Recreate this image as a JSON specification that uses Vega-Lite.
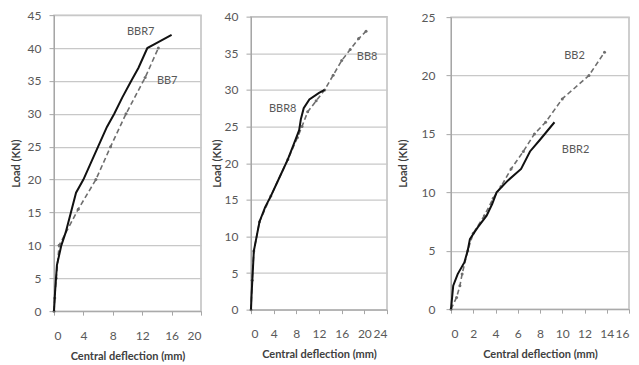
{
  "$schema": "https://vega.github.io/schema/vega-lite/v6.json",
  "padding": {"left": 9, "top": 8, "right": 5, "bottom": 2},
  "background": "white",
  "center": true,
  "spacing": 7,
  "datasets": {
    "curves": [
      {"panel": 1, "series": "BBR7", "style": "solid", "x": 0, "y": 0},
      {"panel": 1, "series": "BBR7", "style": "solid", "x": 0.15, "y": 3},
      {"panel": 1, "series": "BBR7", "style": "solid", "x": 0.4, "y": 7},
      {"panel": 1, "series": "BBR7", "style": "solid", "x": 1, "y": 10},
      {"panel": 1, "series": "BBR7", "style": "solid", "x": 1.6, "y": 12},
      {"panel": 1, "series": "BBR7", "style": "solid", "x": 2.3, "y": 15},
      {"panel": 1, "series": "BBR7", "style": "solid", "x": 3, "y": 18},
      {"panel": 1, "series": "BBR7", "style": "solid", "x": 4, "y": 20},
      {"panel": 1, "series": "BBR7", "style": "solid", "x": 5, "y": 22.5},
      {"panel": 1, "series": "BBR7", "style": "solid", "x": 6, "y": 25},
      {"panel": 1, "series": "BBR7", "style": "solid", "x": 7.2, "y": 28},
      {"panel": 1, "series": "BBR7", "style": "solid", "x": 8.2, "y": 30},
      {"panel": 1, "series": "BBR7", "style": "solid", "x": 9.3, "y": 32.5},
      {"panel": 1, "series": "BBR7", "style": "solid", "x": 10.5, "y": 35},
      {"panel": 1, "series": "BBR7", "style": "solid", "x": 11.5, "y": 37},
      {"panel": 1, "series": "BBR7", "style": "solid", "x": 12.7, "y": 40},
      {"panel": 1, "series": "BBR7", "style": "solid", "x": 14, "y": 40.8},
      {"panel": 1, "series": "BBR7", "style": "solid", "x": 16, "y": 42},
      {"panel": 1, "series": "BB7", "style": "dashed", "x": 0, "y": 0},
      {"panel": 1, "series": "BB7", "style": "dashed", "x": 0.1, "y": 2},
      {"panel": 1, "series": "BB7", "style": "dashed", "x": 0.3, "y": 5},
      {"panel": 1, "series": "BB7", "style": "dashed", "x": 0.7, "y": 10},
      {"panel": 1, "series": "BB7", "style": "dashed", "x": 3.3, "y": 15.5},
      {"panel": 1, "series": "BB7", "style": "dashed", "x": 5.7, "y": 20},
      {"panel": 1, "series": "BB7", "style": "dashed", "x": 7.7, "y": 25},
      {"panel": 1, "series": "BB7", "style": "dashed", "x": 9.8, "y": 30},
      {"panel": 1, "series": "BB7", "style": "dashed", "x": 12.4, "y": 35.5},
      {"panel": 1, "series": "BB7", "style": "dashed", "x": 14.2, "y": 40},
      {"panel": 2, "series": "BBR8", "style": "solid", "x": 0, "y": 0},
      {"panel": 2, "series": "BBR8", "style": "solid", "x": 0.1, "y": 2},
      {"panel": 2, "series": "BBR8", "style": "solid", "x": 0.3, "y": 5},
      {"panel": 2, "series": "BBR8", "style": "solid", "x": 0.5, "y": 8},
      {"panel": 2, "series": "BBR8", "style": "solid", "x": 1, "y": 10},
      {"panel": 2, "series": "BBR8", "style": "solid", "x": 1.5, "y": 12},
      {"panel": 2, "series": "BBR8", "style": "solid", "x": 2.5, "y": 14},
      {"panel": 2, "series": "BBR8", "style": "solid", "x": 3.5, "y": 15.5},
      {"panel": 2, "series": "BBR8", "style": "solid", "x": 5, "y": 18},
      {"panel": 2, "series": "BBR8", "style": "solid", "x": 6.5, "y": 20.5},
      {"panel": 2, "series": "BBR8", "style": "solid", "x": 7.5, "y": 22.5},
      {"panel": 2, "series": "BBR8", "style": "solid", "x": 8.5, "y": 24.5},
      {"panel": 2, "series": "BBR8", "style": "solid", "x": 8.8, "y": 26},
      {"panel": 2, "series": "BBR8", "style": "solid", "x": 9.3, "y": 27.5},
      {"panel": 2, "series": "BBR8", "style": "solid", "x": 10.3, "y": 28.7},
      {"panel": 2, "series": "BBR8", "style": "solid", "x": 12, "y": 29.6},
      {"panel": 2, "series": "BBR8", "style": "solid", "x": 13, "y": 30},
      {"panel": 2, "series": "BB8", "style": "dashed", "x": 0, "y": 0},
      {"panel": 2, "series": "BB8", "style": "dashed", "x": 0.2, "y": 4},
      {"panel": 2, "series": "BB8", "style": "dashed", "x": 0.5, "y": 8},
      {"panel": 2, "series": "BB8", "style": "dashed", "x": 1.5, "y": 12},
      {"panel": 2, "series": "BB8", "style": "dashed", "x": 3.5, "y": 15.5},
      {"panel": 2, "series": "BB8", "style": "dashed", "x": 6.5, "y": 20.5},
      {"panel": 2, "series": "BB8", "style": "dashed", "x": 8.2, "y": 23.5},
      {"panel": 2, "series": "BB8", "style": "dashed", "x": 9, "y": 25},
      {"panel": 2, "series": "BB8", "style": "dashed", "x": 10, "y": 27},
      {"panel": 2, "series": "BB8", "style": "dashed", "x": 11.5, "y": 28.5},
      {"panel": 2, "series": "BB8", "style": "dashed", "x": 13, "y": 30},
      {"panel": 2, "series": "BB8", "style": "dashed", "x": 14.5, "y": 32},
      {"panel": 2, "series": "BB8", "style": "dashed", "x": 16, "y": 34},
      {"panel": 2, "series": "BB8", "style": "dashed", "x": 17.5, "y": 35.5},
      {"panel": 2, "series": "BB8", "style": "dashed", "x": 19, "y": 37},
      {"panel": 2, "series": "BB8", "style": "dashed", "x": 20.3, "y": 38},
      {"panel": 3, "series": "BBR2", "style": "solid", "x": 0, "y": 0},
      {"panel": 3, "series": "BBR2", "style": "solid", "x": 0.1, "y": 1},
      {"panel": 3, "series": "BBR2", "style": "solid", "x": 0.2, "y": 2},
      {"panel": 3, "series": "BBR2", "style": "solid", "x": 0.6, "y": 3},
      {"panel": 3, "series": "BBR2", "style": "solid", "x": 1.2, "y": 4},
      {"panel": 3, "series": "BBR2", "style": "solid", "x": 1.5, "y": 5},
      {"panel": 3, "series": "BBR2", "style": "solid", "x": 1.7, "y": 6},
      {"panel": 3, "series": "BBR2", "style": "solid", "x": 2.4, "y": 7},
      {"panel": 3, "series": "BBR2", "style": "solid", "x": 3.2, "y": 8},
      {"panel": 3, "series": "BBR2", "style": "solid", "x": 3.7, "y": 9},
      {"panel": 3, "series": "BBR2", "style": "solid", "x": 4.1, "y": 10},
      {"panel": 3, "series": "BBR2", "style": "solid", "x": 5.1, "y": 11},
      {"panel": 3, "series": "BBR2", "style": "solid", "x": 6.3, "y": 12},
      {"panel": 3, "series": "BBR2", "style": "solid", "x": 7.1, "y": 13.5},
      {"panel": 3, "series": "BBR2", "style": "solid", "x": 8, "y": 14.5},
      {"panel": 3, "series": "BBR2", "style": "solid", "x": 9.3, "y": 16},
      {"panel": 3, "series": "BB2", "style": "dashed", "x": 0, "y": 0},
      {"panel": 3, "series": "BB2", "style": "dashed", "x": 0.5, "y": 1},
      {"panel": 3, "series": "BB2", "style": "dashed", "x": 0.8, "y": 2},
      {"panel": 3, "series": "BB2", "style": "dashed", "x": 1, "y": 3},
      {"panel": 3, "series": "BB2", "style": "dashed", "x": 1.5, "y": 5},
      {"panel": 3, "series": "BB2", "style": "dashed", "x": 2, "y": 6.5},
      {"panel": 3, "series": "BB2", "style": "dashed", "x": 3, "y": 8},
      {"panel": 3, "series": "BB2", "style": "dashed", "x": 3.8, "y": 9.5},
      {"panel": 3, "series": "BB2", "style": "dashed", "x": 4.5, "y": 10.5},
      {"panel": 3, "series": "BB2", "style": "dashed", "x": 5.4, "y": 12},
      {"panel": 3, "series": "BB2", "style": "dashed", "x": 6.5, "y": 13.5},
      {"panel": 3, "series": "BB2", "style": "dashed", "x": 7.5, "y": 15},
      {"panel": 3, "series": "BB2", "style": "dashed", "x": 8.5, "y": 16},
      {"panel": 3, "series": "BB2", "style": "dashed", "x": 10, "y": 18},
      {"panel": 3, "series": "BB2", "style": "dashed", "x": 12.4, "y": 20},
      {"panel": 3, "series": "BB2", "style": "dashed", "x": 13.8, "y": 22}
    ],
    "labels": [
      {"panel": 1, "label": "BBR7", "x": 11.8, "y": 42.5},
      {"panel": 1, "label": "BB7", "x": 15.4, "y": 35},
      {"panel": 2, "label": "BB8", "x": 20.5, "y": 34.5},
      {"panel": 2, "label": "BBR8", "x": 5.6, "y": 27.4},
      {"panel": 3, "label": "BB2", "x": 11.1, "y": 21.7},
      {"panel": 3, "label": "BBR2", "x": 11.2, "y": 13.6}
    ]
  },
  "hconcat": [
    {
      "width": 147,
      "height": 296,
      "encoding": {
        "x": {"field": "x", "type": "quantitative", "scale": {"domain": [0, 20], "nice": false}, "axis": {"values": [0, 4, 8, 12, 16, 20], "title": "Central deflection (mm)"}},
        "y": {"field": "y", "type": "quantitative", "scale": {"domain": [0, 45], "nice": false}, "axis": {"values": [0, 5, 10, 15, 20, 25, 30, 35, 40, 45], "title": "Load (KN)", "titlePadding": 6}}
      },
      "layer": [
        {
          "data": {"name": "curves"},
          "transform": [{"filter": "datum.panel == 1 && datum.style == 'dashed'"}],
          "mark": {"type": "line", "color": "#6e6e6e", "strokeWidth": 1.6, "strokeDash": [5, 3], "point": {"filled": true, "size": 9, "color": "#6e6e6e"}}
        },
        {
          "data": {"name": "curves"},
          "transform": [{"filter": "datum.panel == 1 && datum.style == 'solid'"}],
          "mark": {"type": "line", "color": "#111111", "strokeWidth": 2}
        },
        {
          "data": {"name": "labels"},
          "transform": [{"filter": "datum.panel == 1"}],
          "mark": {"type": "text", "fontSize": 11, "color": "#595959"},
          "encoding": {"text": {"field": "label"}}
        }
      ]
    },
    {
      "width": 136,
      "height": 293,
      "encoding": {
        "x": {"field": "x", "type": "quantitative", "scale": {"domain": [0, 24], "nice": false}, "axis": {"values": [0, 4, 8, 12, 16, 20, 24], "title": "Central deflection (mm)"}},
        "y": {"field": "y", "type": "quantitative", "scale": {"domain": [0, 40], "nice": false}, "axis": {"values": [0, 5, 10, 15, 20, 25, 30, 35, 40], "title": "Load (KN)", "titlePadding": 2}}
      },
      "layer": [
        {
          "data": {"name": "curves"},
          "transform": [{"filter": "datum.panel == 2 && datum.style == 'dashed'"}],
          "mark": {"type": "line", "color": "#6e6e6e", "strokeWidth": 1.6, "strokeDash": [5, 3], "point": {"filled": true, "size": 9, "color": "#6e6e6e"}}
        },
        {
          "data": {"name": "curves"},
          "transform": [{"filter": "datum.panel == 2 && datum.style == 'solid'"}],
          "mark": {"type": "line", "color": "#111111", "strokeWidth": 2}
        },
        {
          "data": {"name": "labels"},
          "transform": [{"filter": "datum.panel == 2"}],
          "mark": {"type": "text", "fontSize": 11, "color": "#595959"},
          "encoding": {"text": {"field": "label"}}
        }
      ]
    },
    {
      "width": 178,
      "height": 292,
      "encoding": {
        "x": {"field": "x", "type": "quantitative", "scale": {"domain": [0, 16], "nice": false}, "axis": {"values": [0, 2, 4, 6, 8, 10, 12, 14, 16], "title": "Central deflection (mm)"}},
        "y": {"field": "y", "type": "quantitative", "scale": {"domain": [0, 25], "nice": false}, "axis": {"values": [0, 5, 10, 15, 20, 25], "title": "Load (KN)", "titlePadding": 13, "labelPadding": 11}}
      },
      "layer": [
        {
          "data": {"name": "curves"},
          "transform": [{"filter": "datum.panel == 3 && datum.style == 'dashed'"}],
          "mark": {"type": "line", "color": "#6e6e6e", "strokeWidth": 1.6, "strokeDash": [5, 3], "point": {"filled": true, "size": 9, "color": "#6e6e6e"}}
        },
        {
          "data": {"name": "curves"},
          "transform": [{"filter": "datum.panel == 3 && datum.style == 'solid'"}],
          "mark": {"type": "line", "color": "#111111", "strokeWidth": 2}
        },
        {
          "data": {"name": "labels"},
          "transform": [{"filter": "datum.panel == 3"}],
          "mark": {"type": "text", "fontSize": 11, "color": "#595959"},
          "encoding": {"text": {"field": "label"}}
        }
      ]
    }
  ],
  "config": {
    "font": "Lato",
    "view": {"stroke": "#bfbfbf", "strokeWidth": 1.5},
    "axis": {
      "labelColor": "#595959",
      "labelFont": "Lato",
      "labelFontSize": 12,
      "labelOverlap": false,
      "titleColor": "#404040",
      "titleFont": "Lato",
      "titleFontSize": 11,
      "titleFontWeight": "bold",
      "domainColor": "#a6a6a6",
      "tickColor": "#a6a6a6",
      "gridColor": "#c8c8c8",
      "gridWidth": 1.2
    },
    "axisX": {"grid": false, "tickSize": 4, "labelPadding": 15, "titlePadding": 9},
    "axisY": {"grid": true, "tickSize": 5, "labelPadding": 8}
  }
}
